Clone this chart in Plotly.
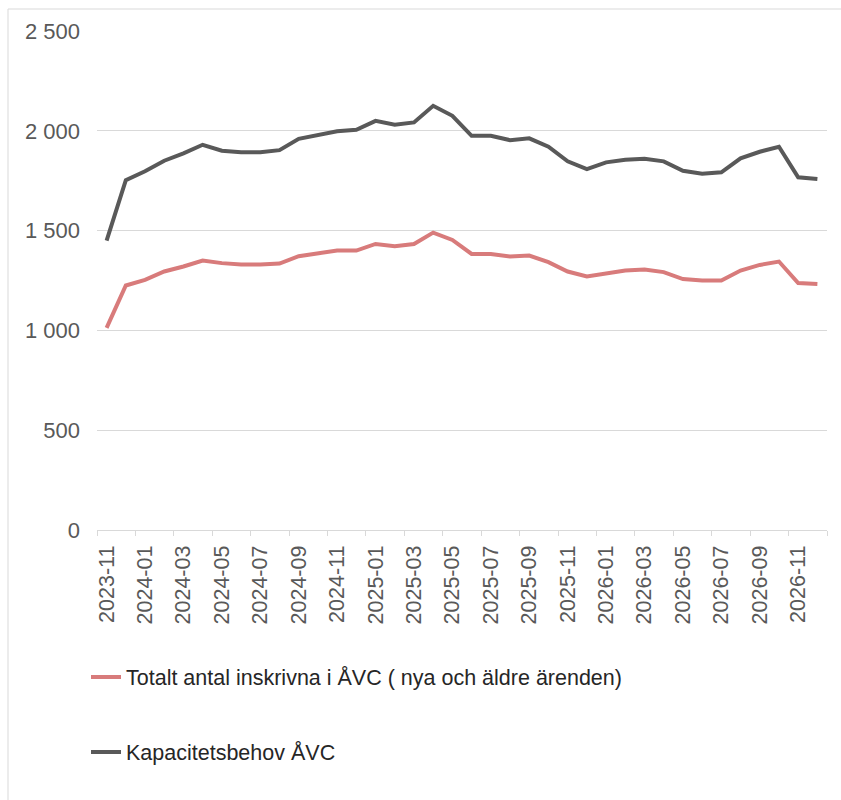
import plotly.graph_objects as go

months = [
    "2023-11", "2023-12",
    "2024-01", "2024-02", "2024-03", "2024-04", "2024-05", "2024-06",
    "2024-07", "2024-08", "2024-09", "2024-10", "2024-11", "2024-12",
    "2025-01", "2025-02", "2025-03", "2025-04", "2025-05", "2025-06",
    "2025-07", "2025-08", "2025-09", "2025-10", "2025-11", "2025-12",
    "2026-01", "2026-02", "2026-03", "2026-04", "2026-05", "2026-06",
    "2026-07", "2026-08", "2026-09", "2026-10", "2026-11", "2026-12",
]

totalt_inskrivna = [
    1013, 1225, 1253, 1295, 1320, 1350, 1337, 1330, 1330, 1335,
    1372, 1388, 1400, 1400, 1433, 1422, 1433, 1490, 1453, 1383,
    1383, 1370, 1375, 1342, 1295, 1270, 1287, 1300, 1305, 1292,
    1257, 1250, 1250, 1300, 1328, 1345, 1237, 1232,
]

kapacitetsbehov = [
    1450, 1753, 1797, 1850, 1887, 1930, 1900, 1892, 1892, 1903,
    1960, 1980, 1998, 2005, 2050, 2030, 2042, 2125, 2075, 1975,
    1975, 1953, 1962, 1920, 1847, 1808, 1842, 1855, 1860, 1847,
    1800, 1785, 1792, 1862, 1895, 1920, 1767, 1758,
]

name_red = "Totalt antal inskrivna i ÅVC ( nya och äldre ärenden)"
name_dark = "Kapacitetsbehov ÅVC"

RED = "#D87B7B"
DARK = "#595959"
GRID = "#D9D9D9"
FONT = "Liberation Sans, Arial, sans-serif"

fig = go.Figure()
fig.add_trace(go.Scatter(
    x=months, y=totalt_inskrivna, mode="lines", name=name_red,
    line=dict(color=RED, width=4), legend="legend",
))
fig.add_trace(go.Scatter(
    x=months, y=kapacitetsbehov, mode="lines", name=name_dark,
    line=dict(color=DARK, width=4), legend="legend2",
))

W, H = 841, 800
L, R, T, B = 97, 14, 31, 270
pw, ph = W - L - R, H - T - B

def px_x(p):
    return (p - L) / pw

def px_y(p):
    return (H - B - p) / ph

legend_common = dict(
    font=dict(family=FONT, size=21.5, color="#262626"),
    bgcolor="rgba(0,0,0,0)", borderwidth=0,
    xanchor="left", yanchor="middle", orientation="v",
)

fig.update_layout(
    width=W, height=H,
    margin=dict(l=L, r=R, t=T, b=B, autoexpand=False),
    paper_bgcolor="white", plot_bgcolor="white",
    separators=", ",
    font=dict(family=FONT, size=20, color="#595959"),
    showlegend=True,
    legend=dict(x=px_x(86), y=px_y(677), **legend_common),
    legend2=dict(x=px_x(86), y=px_y(752), **legend_common),
    xaxis=dict(
        type="category", categoryorder="array", categoryarray=months,
        tickmode="linear", tick0=0, dtick=2,
        tickangle=-90, tickson="boundaries",
        ticks="outside", ticklen=5, tickcolor=GRID, tickwidth=1,
        showline=True, linecolor=GRID, linewidth=1,
        showgrid=False, ticklabelstandoff=6,
        tickfont=dict(family=FONT, size=21.5, color="#595959"),
        range=[-0.5, len(months) - 0.5],
    ),
    yaxis=dict(
        range=[0, 2500], dtick=500, tickformat=",d",
        showgrid=True, gridcolor=GRID, gridwidth=1,
        zeroline=False, showline=False, ticks="",
        ticklabelstandoff=16,
        tickfont=dict(family=FONT, size=22, color="#595959"),
    ),
    shapes=[dict(
        type="rect", xref="paper", yref="paper",
        x0=px_x(8), x1=px_x(850), y0=px_y(810), y1=px_y(9),
        line=dict(color=GRID, width=1), fillcolor="rgba(0,0,0,0)",
        layer="below",
    )],
)

fig.write_html("out.html")
